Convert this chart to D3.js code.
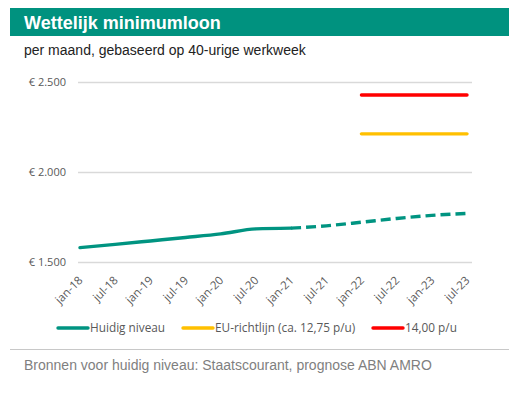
<!DOCTYPE html>
<html>
<head>
<meta charset="utf-8">
<script src="https://cdn.jsdelivr.net/npm/d3@7"></script>
<style>
  body { margin: 0; background: #fff; }
  svg { display: block; font-family: Arial, "Liberation Sans", sans-serif; }
</style>
</head>
<body>
<svg id="chart" width="524" height="393"></svg>
<script>
// data
var periods = ["jan-18", "jul-18", "jan-19", "jul-19", "jan-20", "jul-20",
               "jan-21", "jul-21", "jan-22", "jul-22", "jan-23", "jul-23"];
var huidig   = [1580, 1598, 1617, 1636, 1656, 1684, 1688, null, null, null, null, null];
var prognose = [null, null, null, null, null, null, 1688, 1701, 1721, 1742, 1759, 1770];
var euRichtlijn = [null, null, null, null, null, null, null, null, 2212, 2212, 2212, 2212];
var perUur14 = [null, null, null, null, null, null, null, null, 2428, 2428, 2428, 2428];
var yTicks = [1500, 2000, 2500];
var legendLabels = ["Huidig niveau", "EU-richtlijn (ca. 12,75 p/u)", "14,00 p/u"];

var teal = "#009481", yellow = "#FFC000", red = "#FF0000";

var svg = d3.select("#chart");

// header
svg.append("rect").attr("x", 10).attr("y", 8).attr("width", 499).attr("height", 28)
  .attr("fill", "#00927f");
svg.append("text").attr("x", 24).attr("y", 29).text("Wettelijk minimumloon")
  .attr("fill", "#fff").attr("font-weight", "bold").attr("font-size", 18);
svg.append("text").attr("x", 24).attr("y", 55).text("per maand, gebaseerd op 40-urige werkweek")
  .attr("fill", "#222").attr("font-size", 14);

var x = d3.scalePoint().domain(periods).range([80, 467]);
var y = d3.scaleLinear().domain([1500, 2500]).range([262, 82]);

// gridlines + y labels
var yAxis = d3.axisLeft(y).tickValues(yTicks).tickSize(-(472 - 78))
  .tickFormat(function (d) { return "€ " + d3.format(",")(d).replace(",", "."); });
var gy = svg.append("g").attr("transform", "translate(78,0)").call(yAxis);
gy.select(".domain").remove();
gy.selectAll(".tick line").attr("stroke", "#d9d9d9").attr("stroke-width", 1.3);
gy.selectAll(".tick text").attr("x", -12).attr("fill", "#595959")
  .attr("font-size", 11).attr("font-family", "'Open Sans', sans-serif");

// x labels
var xAxis = d3.axisBottom(x).tickSize(0);
var gx = svg.append("g").attr("transform", "translate(0,266)").call(xAxis);
gx.select(".domain").remove();
gx.selectAll(".tick text")
  .attr("fill", "#595959").attr("font-size", 11.5).attr("font-family", "'Open Sans', sans-serif")
  .attr("text-anchor", "end").attr("dy", 0).attr("y", 0).attr("x", 0)
  .attr("transform", "translate(3,15) rotate(-45)");

function lineOf(vals) {
  return d3.line()
    .defined(function (d) { return d != null; })
    .x(function (d, i) { return x(periods[i]); })
    .y(function (d) { return y(d); })
    .curve(d3.curveMonotoneX)(vals);
}

svg.append("path").attr("d", lineOf(huidig)).attr("fill", "none")
  .attr("stroke", teal).attr("stroke-width", 3.4).attr("stroke-linecap", "round");
svg.append("path").attr("d", lineOf(prognose)).attr("fill", "none")
  .attr("stroke", teal).attr("stroke-width", 3.4).attr("stroke-dasharray", "10,5");
svg.append("path").attr("d", lineOf(euRichtlijn)).attr("fill", "none")
  .attr("stroke", yellow).attr("stroke-width", 3.4).attr("stroke-linecap", "round");
svg.append("path").attr("d", lineOf(perUur14)).attr("fill", "none")
  .attr("stroke", red).attr("stroke-width", 3.4).attr("stroke-linecap", "round");

// legend
var legendX = [58, 183, 373];
var legendColors = [teal, yellow, red];
var lg = svg.append("g").selectAll("g").data(legendLabels).enter().append("g")
  .attr("transform", function (d, i) { return "translate(" + legendX[i] + ",328)"; });
lg.append("line").attr("x1", 0).attr("x2", 30).attr("y1", 0).attr("y2", 0)
  .attr("stroke", function (d, i) { return legendColors[i]; }).attr("stroke-width", 3.4)
  .attr("stroke-linecap", "round");
lg.append("text").attr("x", 32).attr("y", 4).text(function (d) { return d; })
  .attr("fill", "#595959").attr("font-size", 11.8).attr("font-family", "'Open Sans', sans-serif");

// footer
svg.append("line").attr("x1", 10).attr("x2", 509).attr("y1", 349.5).attr("y2", 349.5)
  .attr("stroke", "#c8c8c8");
svg.append("text").attr("x", 24).attr("y", 370).text("Bronnen voor huidig niveau: Staatscourant, prognose ABN AMRO")
  .attr("fill", "#7f7f7f").attr("font-size", 14);
</script>
</body>
</html>
